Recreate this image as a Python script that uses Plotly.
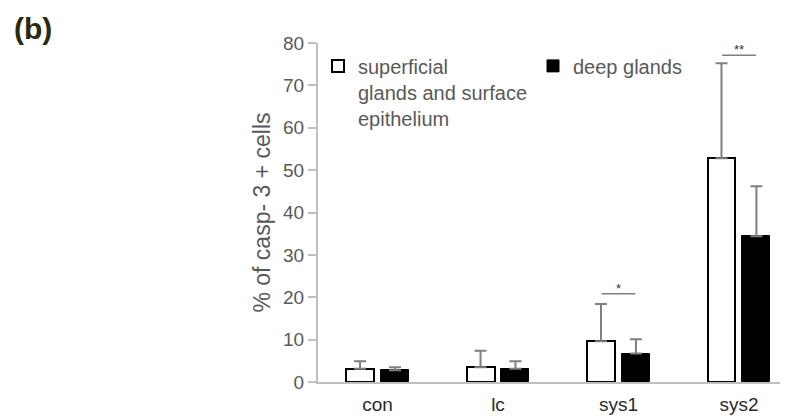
import plotly.graph_objects as go

categories = ["con", "lc", "sys1", "sys2"]
superficial = [3.1, 3.5, 9.6, 52.8]
superficial_err = [1.8, 3.9, 8.8, 22.4]
deep = [2.8, 3.1, 6.7, 34.4]
deep_err = [0.7, 1.8, 3.4, 11.8]
y_ticks = [0, 10, 20, 30, 40, 50, 60, 70, 80]
sig_categories = ["sys1", "sys2"]
sig_labels = ["*", "**"]
sig_y = [20.8, 77.1]

FONT = "Liberation Sans, Arial, sans-serif"
GRAY = "#595959"
ERR = "#7f7f7f"

fig = go.Figure()
fig.add_trace(go.Bar(
    x=categories, y=superficial, name="superficial<br>glands and surface<br>epithelium",
    marker=dict(color="white", line=dict(color="black", width=2)),
    offset=-0.261, width=0.232,
    error_y=dict(type="data", array=superficial_err, arrayminus=[0]*4, symmetric=False,
                 color=ERR, thickness=2, width=6),
))
fig.add_trace(go.Bar(
    x=categories, y=deep, name="deep glands",
    marker=dict(color="black", line=dict(color="black", width=1)),
    offset=0.029, width=0.232,
    error_y=dict(type="data", array=deep_err, arrayminus=[0]*4, symmetric=False,
                 color=ERR, thickness=2, width=6),
))

for cat, lab, yv in zip(sig_categories, sig_labels, sig_y):
    i = categories.index(cat)
    fig.add_shape(type="line", xref="x", yref="y", x0=i - 0.14, x1=i + 0.14, y0=yv, y1=yv,
                  line=dict(color=ERR, width=1.5))
    fig.add_annotation(x=i, y=yv, xref="x", yref="y", text=lab, showarrow=False,
                       yanchor="bottom", yshift=-4, font=dict(family=FONT, size=13, color="#333333"))

fig.add_annotation(x=0, y=1, xref="paper", yref="paper", text="<b>(b)</b>", showarrow=False,
                   xanchor="left", yanchor="top", xshift=-306, yshift=33,
                   font=dict(family=FONT, size=30, color="#2a2a0e"))

fig.update_layout(
    width=780, height=412,
    margin=dict(l=310, r=0, t=35, b=38, autoexpand=False),
    plot_bgcolor="white", paper_bgcolor="white",
    font=dict(family=FONT, color=GRAY, size=19),
    showlegend=True,
    legend=dict(orientation="h", x=0.0, y=0.99, xanchor="left", yanchor="top",
                valign="top", font=dict(family=FONT, size=20, color=GRAY),
                entrywidth=170, entrywidthmode="pixels", bgcolor="rgba(0,0,0,0)",
                traceorder="normal"),
    xaxis=dict(type="category", range=[-0.494, 3.407], showline=True, linecolor="#bfbfbf",
               linewidth=2, showgrid=False, zeroline=False, ticks="", automargin=False,
               tickfont=dict(family=FONT, size=19, color="#2a2a2a"), ticklabelstandoff=4),
    yaxis=dict(range=[0, 80], tickvals=y_ticks, showline=True, linecolor="#bfbfbf", linewidth=2,
               showgrid=False, zeroline=False, ticks="outside", ticklen=8, tickcolor="#bfbfbf",
               tickwidth=1.5, tickfont=dict(family=FONT, size=19, color=GRAY), automargin=False,
               title=dict(text="% of casp- 3 + cells", font=dict(family=FONT, size=23, color=GRAY),
                          standoff=6)),
    bargap=0,
)

fig.write_html("out.html")
